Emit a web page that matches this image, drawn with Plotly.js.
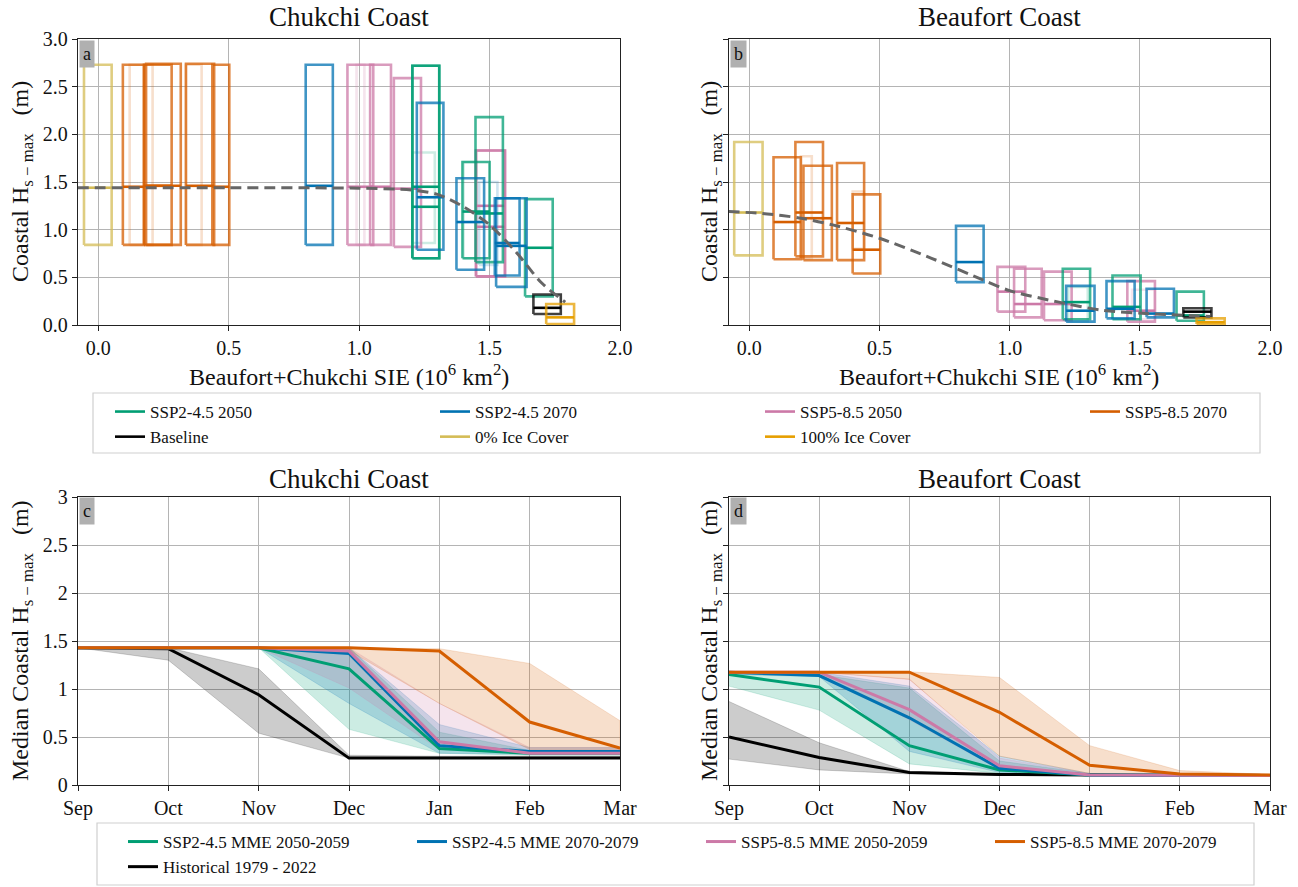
<!DOCTYPE html>
<html><head><meta charset="utf-8">
<script src="https://cdn.plot.ly/plotly-3.0.1.min.js"></script>
<style>html,body{margin:0;padding:0;background:#fff}#chart{width:1298px;height:887px}</style>
</head><body><div id="chart"></div>
<script>
// ===== Panels a/b: boxes [SIE low, SIE high, Hs low, Hs high, Hs median] =====
const chukSSP245_2050 = [[1.204,1.307,0.70,2.72,1.24],[1.204,1.307,0.70,2.72,1.45],[1.396,1.50,0.70,1.71,1.19],[1.446,1.551,0.66,2.18,1.17],[1.636,1.742,0.30,1.32,0.81]];
const chukSSP245_2070 = [[0.795,0.899,0.84,2.73,1.46],[1.221,1.323,0.79,2.33,1.34],[1.373,1.479,0.58,1.54,1.08],[1.525,1.642,0.40,1.33,0.83],[1.52,1.615,0.52,1.33,0.86]];
const chukSSP585_2050 = [[0.955,1.054,0.84,2.73,1.45],[1.042,1.122,0.84,2.73,1.45],[1.133,1.237,0.82,2.59,1.43],[1.448,1.559,0.51,1.83,1.25],[1.448,1.559,0.51,1.83,1.03]];
const chukSSP585_2070 = [[0.094,0.175,0.84,2.73,1.45],[0.175,0.281,0.84,2.73,1.46],[0.183,0.316,0.84,2.74,1.46],[0.336,0.444,0.84,2.74,1.46],[0.437,0.502,0.84,2.73,1.45]];
const chukBaseline = [[1.668,1.773,0.115,0.32,0.18]];
const chukIce0 = [[-0.055,0.051,0.84,2.73,1.44]];
const chukIce100 = [[1.717,1.824,0.01,0.22,0.08]];
// faint (secondary) boxes [SIE low, SIE high, Hs low, Hs high]
const chukFaint245_2050 = [[1.204,1.29,0.86,1.81],[1.40,1.45,0.70,1.71]];
const chukFaint245_2070 = [[1.46,1.53,0.63,1.50]];
const chukFaint585_2050 = [[0.99,1.02,0.84,2.73]];
const chukFaint585_2070 = [[0.12,0.208,0.84,2.73],[0.335,0.396,0.84,2.73]];
const chukFit_x = [-0.08,0.5,1.0,1.2,1.3,1.4,1.5,1.6,1.7,1.79];
const chukFit_y = [1.44,1.44,1.435,1.415,1.37,1.24,1.05,0.77,0.44,0.24];

const beauSSP245_2050 = [[1.204,1.309,0.06,0.59,0.24],[1.395,1.503,0.06,0.52,0.19],[1.641,1.746,0.045,0.35,0.10]];
const beauSSP245_2070 = [[0.794,0.90,0.45,1.04,0.66],[1.217,1.326,0.035,0.41,0.15],[1.372,1.48,0.07,0.46,0.17],[1.526,1.631,0.08,0.38,0.12]];
const beauSSP585_2050 = [[0.953,1.06,0.14,0.61,0.35],[1.017,1.123,0.08,0.59,0.22],[1.132,1.238,0.05,0.56,0.22],[1.452,1.558,0.035,0.46,0.15]];
const beauSSP585_2070 = [[0.093,0.198,0.69,1.76,1.08],[0.177,0.283,0.72,1.92,1.18],[0.208,0.317,0.68,1.67,1.12],[0.337,0.441,0.68,1.70,1.07],[0.397,0.503,0.54,1.37,0.79]];
const beauBaseline = [[1.667,1.775,0.08,0.175,0.14]];
const beauIce0 = [[-0.058,0.051,0.73,1.92,1.18]];
const beauIce100 = [[1.718,1.826,0.01,0.07,0.03]];
const beauFaint245_2050 = [[1.225,1.30,0.04,0.40]];
const beauFaint585_2050 = [[1.47,1.558,0.06,0.37]];
const beauFaint585_2070 = [[0.198,0.24,0.70,1.77],[0.397,0.44,0.80,1.40]];
const beauFit_x = [-0.08,0.05,0.2,0.32,0.5,0.7,0.9,1.0,1.18,1.35,1.56,1.77];
const beauFit_y = [1.19,1.17,1.12,1.05,0.91,0.70,0.47,0.36,0.245,0.157,0.115,0.09];

// ===== Panels c/d: monthly median coastal Hs-max =====
const months = ['Sep','Oct','Nov','Dec','Jan','Feb','Mar'];
const chukHist = [1.43,1.42,0.94,0.28,0.28,0.28,0.28];
const chukHistLo = [1.43,1.30,0.54,0.28,0.28,0.28,0.28];
const chukHistHi = [1.43,1.43,1.21,0.31,0.30,0.30,0.30];
const chuk245_2050 = [1.43,1.43,1.43,1.21,0.38,0.33,0.33];
const chuk245_2050Lo = [1.43,1.43,1.43,0.58,0.33,0.31,0.31];
const chuk245_2050Hi = [1.43,1.43,1.43,1.43,0.55,0.36,0.36];
const chuk245_2070 = [1.43,1.43,1.43,1.37,0.41,0.35,0.35];
const chuk245_2070Lo = [1.43,1.43,1.43,0.85,0.33,0.32,0.32];
const chuk245_2070Hi = [1.43,1.43,1.43,1.43,0.63,0.39,0.39];
const chuk585_2050 = [1.43,1.43,1.43,1.395,0.45,0.33,0.33];
const chuk585_2050Lo = [1.43,1.43,1.43,1.01,0.37,0.33,0.33];
const chuk585_2050Hi = [1.43,1.43,1.43,1.43,0.85,0.39,0.39];
const chuk585_2070 = [1.43,1.43,1.43,1.43,1.395,0.656,0.384];
const chuk585_2070Lo = [1.43,1.43,1.43,1.40,0.85,0.37,0.37];
const chuk585_2070Hi = [1.43,1.43,1.43,1.43,1.42,1.266,0.67];

const beauHist = [0.50,0.286,0.13,0.11,0.105,0.10,0.10];
const beauHistLo = [0.27,0.157,0.115,0.10,0.10,0.10,0.10];
const beauHistHi = [0.87,0.44,0.14,0.115,0.11,0.10,0.10];
const beau245_2050 = [1.15,1.02,0.41,0.157,0.105,0.10,0.10];
const beau245_2050Lo = [1.03,0.78,0.22,0.12,0.10,0.10,0.10];
const beau245_2050Hi = [1.175,1.15,1.01,0.25,0.12,0.10,0.10];
const beau245_2070 = [1.175,1.14,0.70,0.174,0.105,0.10,0.10];
const beau245_2070Lo = [1.15,1.13,0.35,0.13,0.10,0.10,0.10];
const beau245_2070Hi = [1.175,1.175,1.03,0.30,0.12,0.10,0.10];
const beau585_2050 = [1.175,1.175,0.785,0.20,0.105,0.10,0.10];
const beau585_2050Lo = [1.175,1.15,0.68,0.16,0.10,0.10,0.10];
const beau585_2050Hi = [1.175,1.175,1.105,0.28,0.12,0.10,0.10];
const beau585_2070 = [1.175,1.175,1.175,0.757,0.206,0.115,0.105];
const beau585_2070Lo = [1.175,1.175,1.10,0.30,0.12,0.105,0.10];
const beau585_2070Hi = [1.175,1.175,1.18,1.12,0.41,0.15,0.11];

// ===== styling =====
const FONT = 'Liberation Serif, Times New Roman, serif';
const C = {g:'0,158,115', b:'0,114,178', p:'204,121,167', o:'213,94,0', k:'0,0,0', y:'212,188,86', a:'230,159,0'};
const traces = [];

function boxes(list, col, xa, ya, name, rank, showleg) {
  const bx = [], by = [], mx = [], my = [];
  list.forEach(b => {
    bx.push(b[0], b[1], b[1], b[0], b[0], null);
    by.push(b[2], b[2], b[3], b[3], b[2], null);
    mx.push(b[0], b[1], null); my.push(b[4], b[4], null);
  });
  traces.push({type:'scatter', mode:'lines', x:bx, y:by, xaxis:xa, yaxis:ya, showlegend:false, hoverinfo:'skip',
    line:{color:'rgba('+col+',0.75)', width:2.6}});
  traces.push({type:'scatter', mode:'lines', x:mx, y:my, xaxis:xa, yaxis:ya, name:name, legendrank:rank,
    showlegend:showleg, legend:'legend', line:{color:'rgb('+col+')', width:2.6}});
}
function faint(list, col, xa, ya) {
  const bx = [], by = [];
  list.forEach(b => { bx.push(b[0], b[1], b[1], b[0], b[0], null); by.push(b[2], b[2], b[3], b[3], b[2], null); });
  traces.push({type:'scatter', mode:'lines', x:bx, y:by, xaxis:xa, yaxis:ya, showlegend:false, hoverinfo:'skip',
    line:{color:'rgba('+col+',0.2)', width:2.6}});
}
function fit(xs, ys, xa, ya) {
  traces.push({type:'scatter', mode:'lines', x:xs, y:ys, xaxis:xa, yaxis:ya, showlegend:false, hoverinfo:'skip',
    line:{color:'#666', width:3, dash:'11px,6px', shape:'spline', smoothing:0.8}});
}

// panel a
faint(chukFaint585_2070, C.o, 'x', 'y'); faint(chukFaint585_2050, C.p, 'x', 'y');
faint(chukFaint245_2050, C.g, 'x', 'y'); faint(chukFaint245_2070, C.b, 'x', 'y');
boxes(chukIce0, C.y, 'x', 'y', '0% Ice Cover', 6, true);
boxes(chukSSP585_2070, C.o, 'x', 'y', 'SSP5-8.5 2070', 4, true);
boxes(chukSSP585_2050, C.p, 'x', 'y', 'SSP5-8.5 2050', 3, true);
boxes(chukSSP245_2050, C.g, 'x', 'y', 'SSP2-4.5 2050', 1, true);
boxes(chukSSP245_2070, C.b, 'x', 'y', 'SSP2-4.5 2070', 2, true);
boxes(chukBaseline, C.k, 'x', 'y', 'Baseline', 5, true);
boxes(chukIce100, C.a, 'x', 'y', '100% Ice Cover', 7, true);
fit(chukFit_x, chukFit_y, 'x', 'y');
// panel b
faint(beauFaint585_2070, C.o, 'x2', 'y2'); faint(beauFaint585_2050, C.p, 'x2', 'y2'); faint(beauFaint245_2050, C.g, 'x2', 'y2');
boxes(beauIce0, C.y, 'x2', 'y2', '0% Ice Cover', 6, false);
boxes(beauSSP585_2070, C.o, 'x2', 'y2', 'SSP5-8.5 2070', 4, false);
boxes(beauSSP585_2050, C.p, 'x2', 'y2', 'SSP5-8.5 2050', 3, false);
boxes(beauSSP245_2050, C.g, 'x2', 'y2', 'SSP2-4.5 2050', 1, false);
boxes(beauSSP245_2070, C.b, 'x2', 'y2', 'SSP2-4.5 2070', 2, false);
boxes(beauBaseline, C.k, 'x2', 'y2', 'Baseline', 5, false);
boxes(beauIce100, C.a, 'x2', 'y2', '100% Ice Cover', 7, false);
fit(beauFit_x, beauFit_y, 'x2', 'y2');

// panels c/d
function band(lo, hi, col, a, xa, ya) {
  traces.push({type:'scatter', mode:'lines', x:months.concat(months.slice().reverse()),
    y:hi.concat(lo.slice().reverse()), fill:'toself', fillcolor:'rgba('+col+','+a+')',
    line:{color:'rgba('+col+','+(a*0.8)+')', width:1}, xaxis:xa, yaxis:ya, showlegend:false, hoverinfo:'skip'});
}
function line(ys, col, xa, ya, name, rank, showleg) {
  traces.push({type:'scatter', mode:'lines', x:months, y:ys, xaxis:xa, yaxis:ya, name:name, legendrank:rank,
    showlegend:showleg, legend:'legend2', line:{color:'rgb('+col+')', width:3}});
}
band(chukHistLo, chukHistHi, C.k, 0.2, 'x3', 'y3');
band(chuk245_2050Lo, chuk245_2050Hi, C.g, 0.2, 'x3', 'y3');
band(chuk245_2070Lo, chuk245_2070Hi, C.b, 0.2, 'x3', 'y3');
band(chuk585_2050Lo, chuk585_2050Hi, C.p, 0.2, 'x3', 'y3');
band(chuk585_2070Lo, chuk585_2070Hi, C.o, 0.2, 'x3', 'y3');
line(chukHist, C.k, 'x3', 'y3', 'Historical 1979 - 2022', 5, true);
line(chuk245_2050, C.g, 'x3', 'y3', 'SSP2-4.5 MME 2050-2059', 1, true);
line(chuk245_2070, C.b, 'x3', 'y3', 'SSP2-4.5 MME 2070-2079', 2, true);
line(chuk585_2050, C.p, 'x3', 'y3', 'SSP5-8.5 MME 2050-2059', 3, true);
line(chuk585_2070, C.o, 'x3', 'y3', 'SSP5-8.5 MME 2070-2079', 4, true);
band(beauHistLo, beauHistHi, C.k, 0.2, 'x4', 'y4');
band(beau245_2050Lo, beau245_2050Hi, C.g, 0.2, 'x4', 'y4');
band(beau245_2070Lo, beau245_2070Hi, C.b, 0.2, 'x4', 'y4');
band(beau585_2050Lo, beau585_2050Hi, C.p, 0.2, 'x4', 'y4');
band(beau585_2070Lo, beau585_2070Hi, C.o, 0.2, 'x4', 'y4');
line(beauHist, C.k, 'x4', 'y4', 'Historical 1979 - 2022', 5, false);
line(beau245_2050, C.g, 'x4', 'y4', 'SSP2-4.5 MME 2050-2059', 1, false);
line(beau245_2070, C.b, 'x4', 'y4', 'SSP2-4.5 MME 2070-2079', 2, false);
line(beau585_2050, C.p, 'x4', 'y4', 'SSP5-8.5 MME 2050-2059', 3, false);
line(beau585_2070, C.o, 'x4', 'y4', 'SSP5-8.5 MME 2070-2079', 4, false);

// ===== layout =====
const W = 1298, H = 887;
const px = v => v / W, py = v => 1 - v / H;
const axBase = {showline:true, mirror:true, linecolor:'#222', linewidth:1.3, ticks:'outside', ticklen:5,
  tickcolor:'#222', gridcolor:'#b4b4b4', gridwidth:1, zeroline:false, tickfont:{family:FONT, size:20, color:'#111'}};
const xSIE = Object.assign({}, axBase, {range:[-0.078, 2.0], tickvals:[0,0.5,1,1.5,2], tickformat:'.1f'});
const ySIE = Object.assign({}, axBase, {range:[0, 3.0], tickvals:[0,0.5,1,1.5,2,2.5,3], tickformat:'.1f'});
const xMon = Object.assign({}, axBase, {type:'category', range:[0, 6]});
const yMon = Object.assign({}, axBase, {range:[0, 3], tickvals:[0,0.5,1,1.5,2,2.5,3]});
const dxL = [px(78), px(620)], dxR = [px(729), px(1270)];
const dyT = [py(325), py(39)], dyB = [py(785), py(497)];

const ann = [];
function title(t, x, y) { ann.push({text:t, xref:'paper', yref:'paper', x:x, y:y, xanchor:'center', yanchor:'middle', showarrow:false, font:{family:FONT, size:27, color:'#111'}}); }
function axt(t, x, y, ang) { ann.push({text:t, xref:'paper', yref:'paper', x:x, y:y, xanchor:'center', yanchor:'middle', showarrow:false, textangle:ang||0, font:{family:FONT, size:24, color:'#111'}}); }
function lab(t, x, y) { ann.push({text:t, xref:'paper', yref:'paper', x:x, y:y, xanchor:'left', yanchor:'top', showarrow:false, bgcolor:'#b0b0b0', borderpad:3, font:{family:FONT, size:18, color:'#111'}}); }
title('Chukchi Coast', px(349), py(17)); title('Beaufort Coast', px(999), py(17));
title('Chukchi Coast', px(349), py(479)); title('Beaufort Coast', px(999), py(479));
axt('Beaufort+Chukchi SIE (10<sup>6</sup> km<sup>2</sup>)', px(349), py(375));
axt('Beaufort+Chukchi SIE (10<sup>6</sup> km<sup>2</sup>)', px(999), py(375));
axt('Coastal H<sub>s − max</sub>   (m)', px(22), py(182), -90);
axt('Coastal H<sub>s − max</sub>   (m)', px(711), py(182), -90);
axt('Median Coastal H<sub>s − max</sub>   (m)', px(22), py(641), -90);
axt('Median Coastal H<sub>s − max</sub>   (m)', px(711), py(641), -90);
lab('a', px(79), py(39.5)); lab('b', px(730), py(39.5)); lab('c', px(79), py(497.5)); lab('d', px(730), py(497.5));

const legFont = {family:FONT, size:17, color:'#111'};
const layout = {
  width:W, height:H, margin:{l:0, r:0, t:0, b:0, autoexpand:false},
  paper_bgcolor:'#fff', plot_bgcolor:'#fff', font:{family:FONT, color:'#111'},
  xaxis: Object.assign({}, xSIE, {domain:dxL, anchor:'y'}),
  yaxis: Object.assign({}, ySIE, {domain:dyT, anchor:'x'}),
  xaxis2: Object.assign({}, xSIE, {domain:dxR, anchor:'y2'}),
  yaxis2: Object.assign({}, ySIE, {domain:dyT, anchor:'x2', showticklabels:false}),
  xaxis3: Object.assign({}, xMon, {domain:dxL, anchor:'y3'}),
  yaxis3: Object.assign({}, yMon, {domain:dyB, anchor:'x3'}),
  xaxis4: Object.assign({}, xMon, {domain:dxR, anchor:'y4'}),
  yaxis4: Object.assign({}, yMon, {domain:dyB, anchor:'x4', showticklabels:false}),
  legend: {x:px(110), y:py(394), xanchor:'left', yanchor:'top', orientation:'h', entrywidth:280, entrywidthmode:'pixels',
    font:legFont, bgcolor:'rgba(0,0,0,0)', borderwidth:0, traceorder:'normal'},
  legend2: {x:px(123), y:py(824), xanchor:'left', yanchor:'top', orientation:'h', entrywidth:244, entrywidthmode:'pixels',
    font:legFont, bgcolor:'rgba(0,0,0,0)', borderwidth:0, traceorder:'normal'},
  shapes: [
    {type:'rect', xref:'paper', yref:'paper', x0:px(93), x1:px(1260), y0:py(453), y1:py(393), line:{color:'#cfcfcf', width:1.2}, layer:'below'},
    {type:'rect', xref:'paper', yref:'paper', x0:px(97), x1:px(1254), y0:py(885), y1:py(823), line:{color:'#cfcfcf', width:1.2}, layer:'below'}
  ],
  annotations: ann,
  showlegend: true
};
Plotly.newPlot('chart', traces, layout, {displayModeBar:false, staticPlot:true});
</script></body></html>
